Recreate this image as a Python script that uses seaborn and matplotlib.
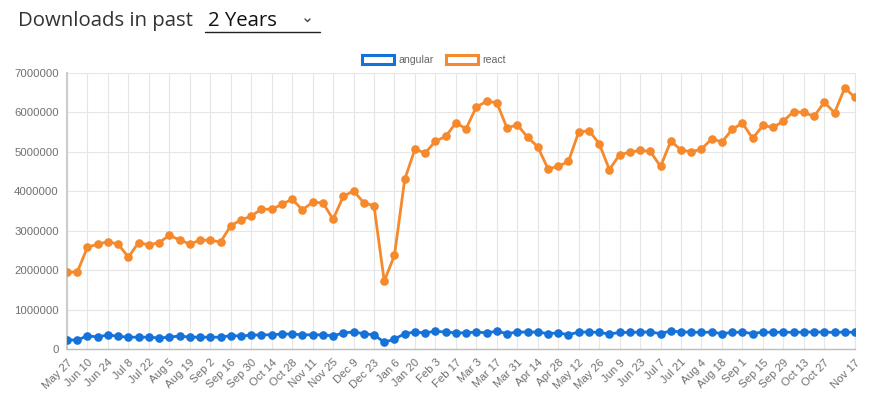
import matplotlib
matplotlib.use("Agg")
import matplotlib.pyplot as plt
from matplotlib.lines import Line2D
from matplotlib.patches import Patch
import seaborn as sns
import pandas as pd
import numpy as np

# ---- data (weekly downloads) ----
weeks = pd.date_range("2018-05-27", periods=78, freq="7D")
react = [1.95, 1.95, 2.58, 2.66, 2.72, 2.66, 2.33, 2.70, 2.64, 2.70,
         2.88, 2.77, 2.66, 2.76, 2.76, 2.71, 3.13, 3.27, 3.37, 3.55,
         3.54, 3.67, 3.80, 3.53, 3.72, 3.71, 3.29, 3.87, 4.01, 3.71,
         3.63, 1.72, 2.38, 4.30, 5.07, 4.97, 5.27, 5.39, 5.73, 5.59,
         6.14, 6.28, 6.25, 5.60, 5.69, 5.37, 5.13, 4.57, 4.63, 4.76,
         5.50, 5.54, 5.21, 4.55, 4.93, 4.99, 5.04, 5.01, 4.63, 5.27,
         5.05, 5.00, 5.07, 5.33, 5.25, 5.57, 5.73, 5.34, 5.67, 5.62,
         5.78, 6.02, 6.00, 5.90, 6.26, 5.99, 6.62, 6.38]
angular = [0.24, 0.22, 0.34, 0.30, 0.36, 0.32, 0.30, 0.30, 0.30, 0.28,
           0.30, 0.33, 0.30, 0.30, 0.30, 0.30, 0.34, 0.33, 0.35, 0.36,
           0.36, 0.38, 0.38, 0.36, 0.36, 0.36, 0.33, 0.41, 0.43, 0.39,
           0.36, 0.17, 0.25, 0.39, 0.43, 0.41, 0.45, 0.43, 0.41, 0.41,
           0.43, 0.41, 0.45, 0.39, 0.43, 0.43, 0.43, 0.39, 0.41, 0.36,
           0.43, 0.43, 0.42, 0.38, 0.42, 0.42, 0.43, 0.43, 0.39, 0.46,
           0.43, 0.43, 0.42, 0.43, 0.39, 0.42, 0.43, 0.39, 0.43, 0.42,
           0.43, 0.42, 0.43, 0.43, 0.43, 0.42, 0.43, 0.42]
packages = ["angular", "react"]
colors = {"angular": "#1572d9", "react": "#f5892c"}
y_ticks = [0, 1000000, 2000000, 3000000, 4000000, 5000000, 6000000, 7000000]

week_labels = [f"{d:%b} {d.day}" for d in weeks]
df = pd.DataFrame({
    "week": list(range(len(weeks))) * 2,
    "downloads": [v * 1e6 for v in angular] + [v * 1e6 for v in react],
    "package": ["angular"] * len(weeks) + ["react"] * len(weeks),
})

sns.set_theme(style="white")
plt.rcParams["font.family"] = ["Liberation Sans", "DejaVu Sans"]

W, H = 875, 399
fig = plt.figure(figsize=(W / 100, H / 100), dpi=100)
ax = fig.add_axes([67 / W, 1 - 349 / H, (855 - 67) / W, (349 - 73) / H])

sns.lineplot(data=df, x="week", y="downloads", hue="package",
             palette=colors, hue_order=["react", "angular"],
             marker="o", markersize=6.2, markeredgewidth=0,
             linewidth=2.0, legend=False, ax=ax, zorder=3)

n = len(weeks)
tick_idx = list(range(0, n - 2, 2)) + [n - 1]
ax.set_xlim(0, n - 1)
ax.set_ylim(0, 7000000)
ax.set_xticks(tick_idx)
ax.set_xticklabels([week_labels[i] for i in tick_idx], rotation=45,
                   ha="right", rotation_mode="anchor", fontsize=8.2, color="#707070")
ax.set_yticks(y_ticks)
ax.set_yticklabels([str(v) for v in y_ticks], fontsize=8.2, color="#707070")
ax.set_xlabel("")
ax.set_ylabel("")
ax.grid(True, color="#e6e6e6", linewidth=0.8)
ax.set_axisbelow(True)
ax.tick_params(axis="both", length=4, color="#e6e6e6", width=0.8, pad=2)
for side in ["top", "right"]:
    ax.spines[side].set_visible(False)
ax.spines["left"].set_color("#cccccc")
ax.spines["left"].set_linewidth(1.5)
ax.spines["bottom"].set_color("#bbbbbb")
ax.spines["bottom"].set_linewidth(1.0)
ax.plot([n - 1, n - 1], [0, 7000000], color="#e6e6e6", lw=0.8, zorder=0, clip_on=False)

# legend (outlined boxes)
handles = [Patch(facecolor="white", edgecolor=colors[p], linewidth=2.2, label=p) for p in packages]
fig.legend(handles=handles, loc="center", bbox_to_anchor=(434 / W, 1 - 60 / H),
           ncol=2, frameon=False, fontsize=7.6, handlelength=3.0, handleheight=0.85,
           handletextpad=0.4, columnspacing=1.2, labelcolor="#666666")

# title with dropdown
fig.text(18 / W, 1 - 21 / H, "Downloads in past", fontsize=14.7, color="#333333",
         va="center", ha="left", family=["Open Sans", "DejaVu Sans"])
fig.text(208 / W, 1 - 21 / H, "2 Years", fontsize=14.7, color="#111111",
         va="center", ha="left", family=["Open Sans", "DejaVu Sans"])
fig.add_artist(Line2D([205 / W, 320 / W], [1 - 32 / H, 1 - 32 / H],
                      color="#222222", lw=1.0, transform=fig.transFigure))
fig.add_artist(Line2D([305 / W, 307.5 / W, 310 / W], [1 - 19 / H, 1 - 21.5 / H, 1 - 19 / H],
                      color="#444444", lw=1.0, transform=fig.transFigure))

fig.savefig("out.png", dpi=100)
